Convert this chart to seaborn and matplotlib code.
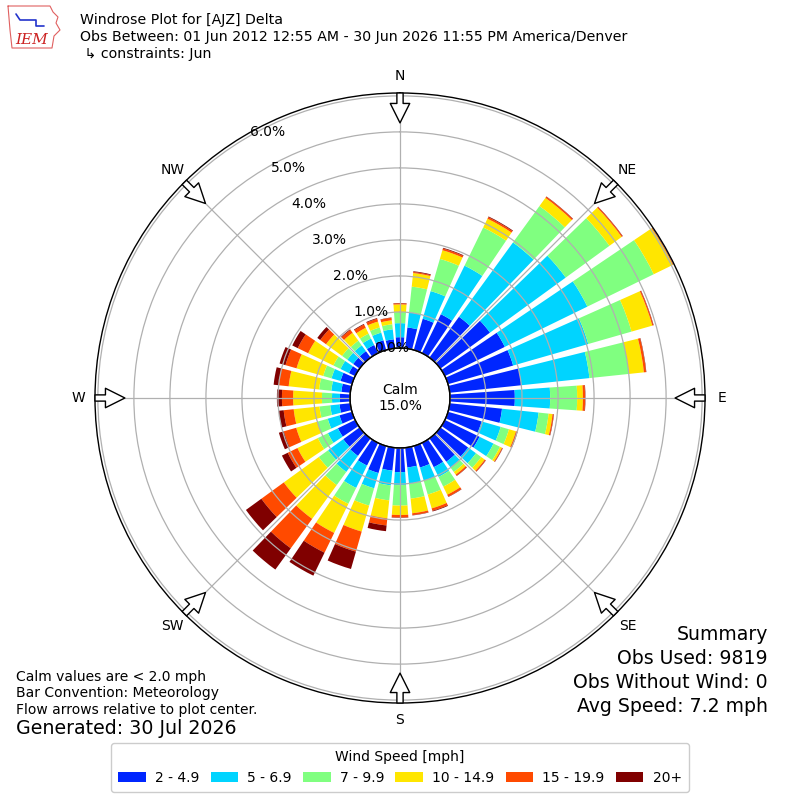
import numpy as np
import matplotlib
matplotlib.use("Agg")
import matplotlib.pyplot as plt
import seaborn as sns

# direction (deg, meteorological) and per-speed-bin frequency (%)
directions = np.arange(0, 360, 10)
speed_labels = ["2 - 4.9", "5 - 6.9", "7 - 9.9", "10 - 14.9", "15 - 19.9", "20+"]
speed_colors = ["#0026ff", "#00d4ff", "#80ff80", "#ffe600", "#ff4a00", "#800000"]

spd_2_5 = [0.30, 0.58, 0.90, 1.20, 1.40, 1.70, 1.85, 1.88, 2.00, 1.80, 1.46, 0.97,
           1.07, 0.95, 0.80, 0.75, 0.62, 0.55, 0.67, 0.64, 0.78, 0.70, 0.60, 0.56,
           0.53, 0.36, 0.30, 0.28, 0.25, 0.33, 0.19, 0.22, 0.22, 0.25, 0.28, 0.25]
spd_5_7 = [0.39, 0.42, 0.80, 1.50, 2.55, 2.60, 2.55, 2.17, 1.90, 0.98, 1.02, 0.55,
           0.43, 0.27, 0.20, 0.30, 0.38, 0.45, 0.36, 0.41, 0.44, 0.69, 0.55, 0.52,
           0.31, 0.34, 0.26, 0.22, 0.28, 0.26, 0.26, 0.20, 0.20, 0.20, 0.22, 0.28]
spd_7_10 = [0.31, 0.72, 0.93, 1.18, 1.25, 1.50, 2.05, 1.25, 1.10, 0.75, 0.28, 0.24,
            0.20, 0.18, 0.15, 0.30, 0.40, 0.42, 0.57, 0.42, 0.50, 0.49, 0.45, 0.32,
            0.31, 0.30, 0.30, 0.28, 0.34, 0.24, 0.22, 0.18, 0.16, 0.15, 0.15, 0.14]
spd_10_15 = [0.21, 0.38, 0.25, 0.27, 0.28, 0.42, 0.59, 0.60, 0.42, 0.16, 0.11, 0.20,
             0.06, 0.12, 0.09, 0.25, 0.40, 0.41, 0.26, 0.50, 0.75, 0.90, 1.16, 1.20,
             0.63, 0.61, 0.72, 0.80, 0.85, 0.77, 0.78, 0.55, 0.27, 0.18, 0.17, 0.11]
spd_15_20 = [0.03, 0.03, 0.05, 0.05, 0.04, 0.03, 0.01, 0.03, 0.06, 0.06, 0.03, 0.04,
             0.02, 0.03, 0.04, 0.06, 0.07, 0.05, 0.07, 0.20, 0.58, 0.61, 1.01, 0.77,
             0.30, 0.36, 0.28, 0.31, 0.28, 0.32, 0.32, 0.20, 0.10, 0.10, 0.08, 0.07]
spd_20_up = [0.01, 0.02, 0.02, 0.02, 0.01, 0.01, 0.01, 0.01, 0.01, 0.01, 0.01, 0.01,
             0.01, 0.01, 0.01, 0.01, 0.02, 0.01, 0.01, 0.16, 0.50, 0.71, 0.73, 0.53,
             0.18, 0.14, 0.14, 0.14, 0.14, 0.17, 0.17, 0.10, 0.02, 0.02, 0.02, 0.01]
speed_bins = [spd_2_5, spd_5_7, spd_7_10, spd_10_15, spd_15_20, spd_20_up]

compass = ["N", "NE", "E", "SE", "S", "SW", "W", "NW"]
calm_pct = 15.0
r_ticks = [0, 1, 2, 3, 4, 5, 6]
r_max = 7.08

sns.set_style("white")
plt.rcParams["font.family"] = ["DejaVu Sans"]
plt.rcParams["text.color"] = "black"

fig = plt.figure(figsize=(8, 8), dpi=100)
ax = fig.add_axes([95 / 800, 97 / 800, 610 / 800, 610 / 800], projection="polar")
ax.set_theta_zero_location("N")
ax.set_theta_direction(-1)
ax.set_axisbelow(False)

theta = np.deg2rad(directions)
bottom = np.zeros(len(directions))
for vals, color, label in zip(speed_bins, speed_colors, speed_labels):
    ax.bar(theta, vals, width=np.deg2rad(10) * 0.8, bottom=bottom,
           color=color, label=label, linewidth=0, zorder=1)
    bottom += np.array(vals)

ax.set_rorigin(-1.388)
ax.set_ylim(0, r_max)
ax.set_yticks(r_ticks + [7])
ax.set_yticklabels([])
ax.set_xticks(np.deg2rad(np.arange(0, 360, 45)))
ax.set_xticklabels([])
ax.grid(True, color="#b0b0b0", linewidth=0.9)
for name in ["polar", "inner"]:
    if name in ax.spines:
        ax.spines[name].set_color("black")
        ax.spines[name].set_linewidth(1.0)
ax.plot(np.linspace(0, 2 * np.pi, 361), np.zeros(361), color="black",
        linewidth=1.0, clip_on=False, zorder=4)

# radial labels
for v in r_ticks:
    ax.annotate(f"{v:.1f}%", xy=(0, v), xytext=((-8 - 20.8 * v) * 0.72, 0),
                textcoords="offset points", ha="center", va="center", fontsize=10)

# compass labels and flow arrows
for i, name in enumerate(compass):
    t = np.deg2rad(45 * i)
    ax.text(t, 7.55, name, ha="center", va="center", fontsize=10, clip_on=False)
    ax.annotate("", xy=(t, 6.25), xytext=(t, 7.08), annotation_clip=False,
                arrowprops=dict(arrowstyle="simple,head_length=1.0,head_width=1.0,tail_width=0.32",
                                fc="white", ec="black", lw=1, mutation_scale=14,
                                shrinkA=0, shrinkB=0))

fig.text(0.5, 1 - 398 / 800, f"Calm\n{calm_pct:.1f}%", ha="center", va="center", fontsize=10)

# header
fig.text(80 / 800, 1 - 20 / 800, "Windrose Plot for [AJZ] Delta", fontsize=10.2, va="center")
fig.text(80 / 800, 1 - 37 / 800,
         "Obs Between: 01 Jun 2012 12:55 AM - 30 Jun 2026 11:55 PM America/Denver",
         fontsize=10.2, va="center")
fig.text(80 / 800, 1 - 54 / 800, " \u21b3 constraints: Jun", fontsize=10.2, va="center")

# logo stand-in
lax = fig.add_axes([6 / 800, 1 - 50 / 800, 56 / 800, 45 / 800])
lax.set_xlim(0, 56)
lax.set_ylim(0, 45)
lax.axis("off")
lax.plot([2, 44, 47, 52, 50, 54, 48, 46, 6, 4, 2], [44, 44, 38, 33, 27, 20, 14, 2, 2, 20, 44],
         color="#e06060", linewidth=0.8)
lax.plot([10, 14, 30, 30, 38], [36, 30, 30, 24, 24], color="#2233cc", linewidth=1.2)
lax.text(26, 10, "IEM", color="#cc2222", fontsize=11, style="italic",
         family="DejaVu Serif", ha="center", va="center")

# summary
fig.text(768 / 800, 1 - 635 / 800, "Summary", ha="right", va="center", fontsize=13.6)
fig.text(768 / 800, 1 - 659 / 800, "Obs Used: 9819", ha="right", va="center", fontsize=13.6)
fig.text(768 / 800, 1 - 683 / 800, "Obs Without Wind: 0", ha="right", va="center", fontsize=13.6)
fig.text(768 / 800, 1 - 706 / 800, "Avg Speed: 7.2 mph", ha="right", va="center", fontsize=13.6)

fig.text(16 / 800, 1 - 677 / 800, "Calm values are < 2.0 mph", va="center", fontsize=10)
fig.text(16 / 800, 1 - 693 / 800, "Bar Convention: Meteorology", va="center", fontsize=10)
fig.text(16 / 800, 1 - 710 / 800, "Flow arrows relative to plot center.", va="center", fontsize=10)
fig.text(16 / 800, 1 - 729 / 800, "Generated: 30 Jul 2026", va="center", fontsize=13.7)

handles, labels = ax.get_legend_handles_labels()
fig.legend(handles, labels, loc="lower center", bbox_to_anchor=(0.5, 0.01), ncol=6,
           title="Wind Speed [mph]", fontsize=10, title_fontsize=10,
           handlelength=2.0, handleheight=0.7, columnspacing=0.8, handletextpad=0.65,
           borderpad=0.5, borderaxespad=0, framealpha=1, edgecolor="#cccccc",
           fancybox=True)

fig.savefig("out.png", dpi=100)
